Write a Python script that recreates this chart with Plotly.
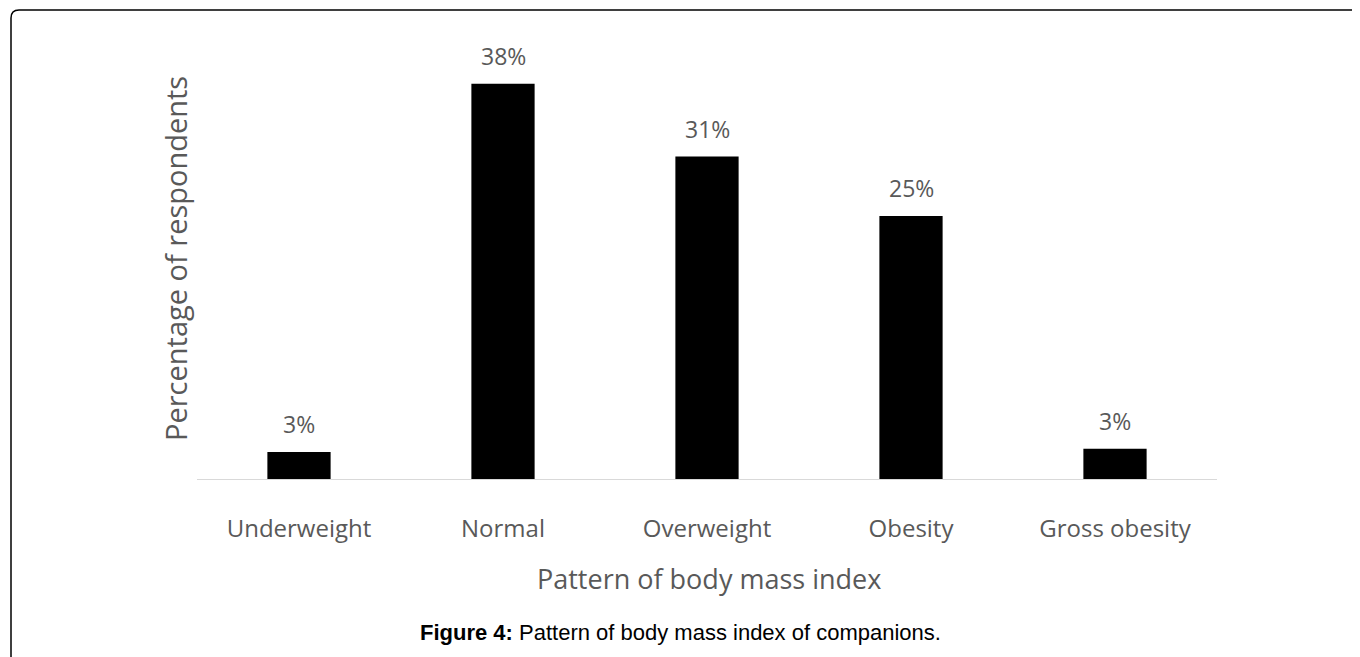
import plotly.graph_objects as go

categories = ["Underweight", "Normal", "Overweight", "Obesity", "Gross obesity"]
values = [2.6, 38, 31, 25.3, 2.9]
labels = ["3%", "38%", "31%", "25%", "3%"]

W, H = 1360, 657
OFF = 8  # page offset of the figure inside the browser
# target plot area in screenshot pixels
X0, X1, Y0, Y1 = 197, 1217, 63, 479
L, T = X0 - OFF, Y0 - OFF
R, B = W - (X1 - OFF), H - (Y1 - OFF)
pw, ph = W - L - R, H - T - B

def px(x):
    return (x - OFF - L) / pw

def py(y):
    return (H - B - (y - OFF)) / ph

GRAY = "#595959"
FONT = "Open Sans"

fig = go.Figure(go.Bar(
    x=categories, y=values,
    marker=dict(color="black", line=dict(width=0)),
    width=0.31,
))

r = 8
left, top, bottom, right = 11, 10, 720, 1420
path = (f"M {px(left)},{py(bottom)} L {px(left)},{py(top + r)} "
        f"Q {px(left)},{py(top)} {px(left + r)},{py(top)} L {px(right)},{py(top)}")

annotations = [
    dict(x=c, y=v, xref="x", yref="y", text=t, showarrow=False,
         yshift=28, xanchor="center", yanchor="middle",
         font=dict(family=FONT, size=23, color=GRAY))
    for c, v, t in zip(categories, values, labels)
]
annotations += [
    dict(text="Pattern of body mass index", xref="paper", yref="paper",
         x=px(709), y=py(578), showarrow=False, xanchor="center", yanchor="middle",
         font=dict(family=FONT, size=27, color=GRAY)),
    dict(text="Percentage of respondents", xref="paper", yref="paper",
         x=px(175), y=py(259), showarrow=False, textangle=-90,
         xanchor="center", yanchor="middle",
         font=dict(family=FONT, size=29, color=GRAY)),
    dict(text="<b>Figure 4:</b> Pattern of body mass index of companions.",
         xref="paper", yref="paper", x=px(680), y=py(632), showarrow=False,
         xanchor="center", yanchor="middle",
         font=dict(family="Liberation Sans", size=22, color="black")),
]

fig.update_layout(
    width=W, height=H, margin=dict(l=L, r=R, t=T, b=B, autoexpand=False),
    paper_bgcolor="white", plot_bgcolor="white", showlegend=False,
    font=dict(family=FONT, color=GRAY),
    xaxis=dict(showline=True, linecolor="#d9d9d9", linewidth=1, ticks="",
               tickfont=dict(family=FONT, size=24, color=GRAY),
               ticklabelstandoff=28, showgrid=False, zeroline=False),
    yaxis=dict(range=[0, 40], visible=False, showgrid=False),
    shapes=[dict(type="path", xref="paper", yref="paper", path=path,
                 line=dict(color="black", width=1.5))],
    annotations=annotations,
)

fig.write_html("out.html")
